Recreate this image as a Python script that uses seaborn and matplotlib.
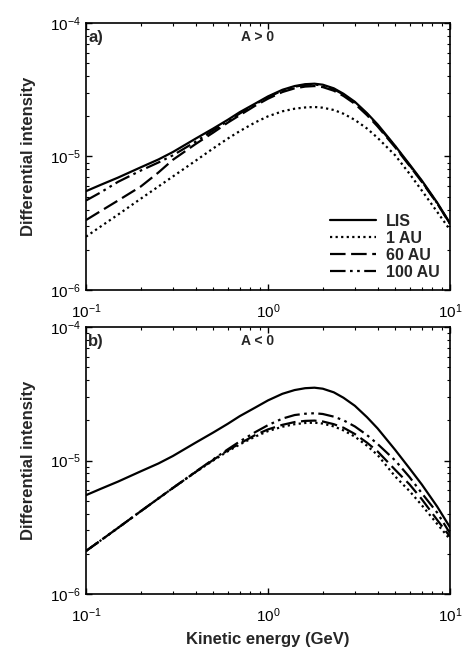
import numpy as np
import pandas as pd
import matplotlib
matplotlib.use("Agg")
import matplotlib.pyplot as plt
import seaborn as sns
from matplotlib.ticker import LogLocator, NullFormatter

# ---- data ----
energy = [0.1, 0.12, 0.15, 0.2, 0.25, 0.3, 0.4, 0.5, 0.6, 0.7, 0.85, 1.0, 1.2, 1.4, 1.6,
          1.8, 2.0, 2.3, 2.6, 3.0, 3.5, 4.0, 5.0, 6.0, 7.0, 8.5, 10.0]

lis = [5.50e-6, 6.12e-6, 6.95e-6, 8.30e-6, 9.50e-6, 1.08e-5, 1.36e-5, 1.62e-5, 1.88e-5, 2.15e-5,
       2.49e-5, 2.82e-5, 3.16e-5, 3.37e-5, 3.48e-5, 3.51e-5, 3.45e-5, 3.24e-5, 2.95e-5, 2.57e-5,
       2.11e-5, 1.74e-5, 1.20e-5, 8.71e-6, 6.61e-6, 4.52e-6, 3.16e-6]

# panel a (A > 0)
a_1au = [2.51e-6, 2.98e-6, 3.67e-6, 4.83e-6, 5.96e-6, 7.08e-6, 9.29e-6, 1.15e-5, 1.36e-5, 1.55e-5,
         1.80e-5, 2.00e-5, 2.18e-5, 2.28e-5, 2.33e-5, 2.35e-5, 2.32e-5, 2.23e-5, 2.09e-5, 1.88e-5,
         1.62e-5, 1.38e-5, 1.02e-5, 7.41e-6, 5.56e-6, 3.85e-6, 2.82e-6]
a_60au = [3.34e-6, 3.89e-6, 4.68e-6, 5.96e-6, 7.59e-6, 9.44e-6, 1.24e-5, 1.51e-5, 1.79e-5, 2.04e-5,
          2.40e-5, 2.71e-5, 3.04e-5, 3.24e-5, 3.34e-5, 3.37e-5, 3.31e-5, 3.11e-5, 2.84e-5, 2.48e-5,
          2.04e-5, 1.68e-5, 1.17e-5, 8.51e-6, 6.46e-6, 4.45e-6, 3.13e-6]
a_100au = [4.68e-6, 5.37e-6, 6.46e-6, 7.85e-6, 9.02e-6, 1.02e-5, 1.29e-5, 1.57e-5, 1.84e-5, 2.10e-5,
           2.46e-5, 2.78e-5, 3.12e-5, 3.33e-5, 3.44e-5, 3.46e-5, 3.40e-5, 3.19e-5, 2.91e-5, 2.54e-5,
           2.08e-5, 1.71e-5, 1.19e-5, 8.59e-6, 6.52e-6, 4.47e-6, 3.14e-6]

# panel b (A < 0)
b_1au = [2.10e-6, 2.51e-6, 3.13e-6, 4.17e-6, 5.20e-6, 6.22e-6, 8.18e-6, 1.00e-5, 1.17e-5, 1.32e-5,
         1.51e-5, 1.66e-5, 1.79e-5, 1.87e-5, 1.91e-5, 1.92e-5, 1.89e-5, 1.80e-5, 1.68e-5, 1.51e-5,
         1.29e-5, 1.10e-5, 7.59e-6, 5.89e-6, 4.62e-6, 3.35e-6, 2.57e-6]
b_60au = [2.10e-6, 2.51e-6, 3.13e-6, 4.17e-6, 5.20e-6, 6.22e-6, 8.20e-6, 1.01e-5, 1.19e-5, 1.34e-5,
          1.55e-5, 1.71e-5, 1.85e-5, 1.94e-5, 1.98e-5, 1.99e-5, 1.96e-5, 1.87e-5, 1.76e-5, 1.58e-5,
          1.36e-5, 1.17e-5, 8.51e-6, 6.61e-6, 5.13e-6, 3.59e-6, 2.69e-6]
b_100au = [2.10e-6, 2.51e-6, 3.13e-6, 4.17e-6, 5.20e-6, 6.22e-6, 8.24e-6, 1.02e-5, 1.21e-5, 1.39e-5,
           1.63e-5, 1.84e-5, 2.06e-5, 2.19e-5, 2.24e-5, 2.26e-5, 2.23e-5, 2.13e-5, 2.00e-5, 1.80e-5,
           1.55e-5, 1.33e-5, 1.00e-5, 7.50e-6, 5.69e-6, 4.07e-6, 2.85e-6]

series = ["LIS", "1 AU", "60 AU", "100 AU"]
panel_titles = ["A > 0", "A < 0"]
panel_tags = ["a)", "b)"]

def make_df(vals):
    rows = []
    for name, v in zip(series, vals):
        for e, y in zip(energy, v):
            rows.append({"E": e, "J": y, "series": name})
    return pd.DataFrame(rows)

df_a = make_df([lis, a_1au, a_60au, a_100au])
df_b = make_df([lis, b_1au, b_60au, b_100au])

sns.set_style("ticks")
plt.rcParams["font.family"] = ["Liberation Sans", "DejaVu Sans"]
plt.rcParams["mathtext.fontset"] = "custom"
plt.rcParams["mathtext.rm"] = "Liberation Sans:bold"
plt.rcParams["mathtext.it"] = "Liberation Sans:bold"
plt.rcParams["mathtext.bf"] = "Liberation Sans:bold"

dashes = {"LIS": "", "1 AU": (1, 1.5), "60 AU": (7, 2.5), "100 AU": (7, 2, 1.2, 2, 1.2, 2)}

fig = plt.figure(figsize=(4.63, 6.56), dpi=100)
ax_a = fig.add_axes([86/463, 1-290/656, (450-86)/463, (290-23)/656])
ax_b = fig.add_axes([86/463, 1-594/656, (450-86)/463, (594-327)/656])

for ax, df, title, tag, show_leg in [(ax_a, df_a, panel_titles[0], panel_tags[0], True),
                                      (ax_b, df_b, panel_titles[1], panel_tags[1], False)]:
    sns.lineplot(data=df, x="E", y="J", hue="series", style="series",
                 palette={s: "black" for s in series}, dashes=dashes,
                 hue_order=series, style_order=series,
                 linewidth=1.6, ax=ax, legend=show_leg)
    ax.set_xscale("log")
    ax.set_yscale("log")
    ax.set_xlim(0.1, 10)
    ax.set_ylim(1e-6, 1e-4)
    ax.xaxis.set_major_locator(LogLocator(base=10, numticks=5))
    ax.yaxis.set_major_locator(LogLocator(base=10, numticks=5))
    ax.xaxis.set_minor_locator(LogLocator(base=10, subs=np.arange(2, 10), numticks=20))
    ax.yaxis.set_minor_locator(LogLocator(base=10, subs=np.arange(2, 10), numticks=20))
    ax.xaxis.set_minor_formatter(NullFormatter())
    ax.yaxis.set_minor_formatter(NullFormatter())
    ax.tick_params(which="both", direction="in", top=True, right=True, colors="black")
    ax.tick_params(which="major", length=4, width=1.0, labelsize=11)
    ax.tick_params(which="minor", length=2.2, width=0.8)
    ax.tick_params(axis="x", which="major", pad=9)
    ax.tick_params(axis="y", which="major", pad=4)
    for sp in ax.spines.values():
        sp.set_linewidth(1.2)
        sp.set_color("black")
    ax.set_ylabel("Differential intensity", fontsize=12, fontweight="bold", labelpad=10)
    ax.set_xlabel("")
    ax.text(0.006, 0.975, tag, transform=ax.transAxes, ha="left", va="top",
            fontsize=12, fontweight="bold")
    ax.text(0.47, 0.975, title, transform=ax.transAxes, ha="center", va="top",
            fontsize=10, fontweight="bold")
    if show_leg:
        leg = ax.legend(loc="lower right", frameon=False, fontsize=11.5,
                        handlelength=2.9, handletextpad=0.6, labelspacing=0.12,
                        borderaxespad=0.25)
        for t in leg.get_texts():
            t.set_fontweight("bold")
        for h in leg.get_lines():
            h.set_linewidth(1.6)

ax_b.set_xlabel("Kinetic energy (GeV)", fontsize=12, fontweight="bold", labelpad=5)

fig.savefig("out.png", dpi=100)
